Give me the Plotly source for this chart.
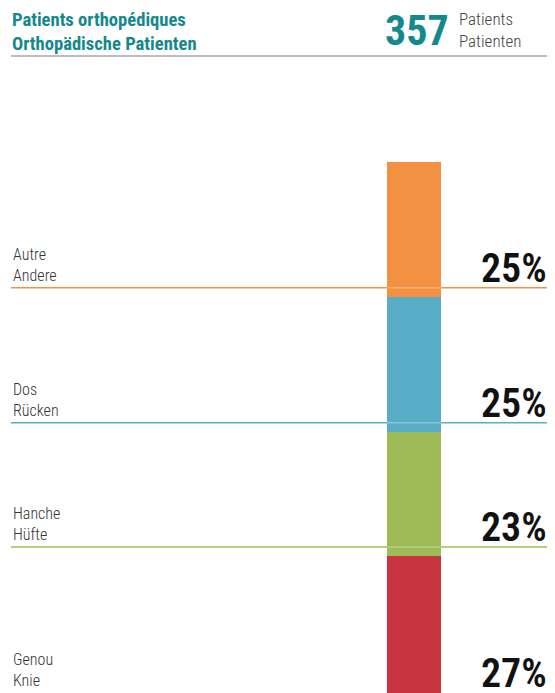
import plotly.graph_objects as go

# ---- data ----
categories_fr = ["Genou", "Hanche", "Dos", "Autre"]
categories_de = ["Knie", "Hüfte", "Rücken", "Andere"]
shares = [27, 23, 25, 25]
colors = ["#C8343F", "#9DBC55", "#58AEC7", "#F19141"]
total_patients = 357
title_fr = "Patients orthopédiques"
title_de = "Orthopädische Patienten"
unit_fr = "Patients"
unit_de = "Patienten"

# page body has an 8px margin: figure is sized to fill the rest of the window
OFF = 8
W, H = 555 - OFF, 693 - OFF
TEAL = "#14898B"
FONT = "Roboto Condensed, Liberation Sans Narrow, DejaVu Sans Condensed, Arial, sans-serif"

def px(xw):   # window x -> paper x
    return (xw - OFF) / W

def py(yw):   # window y -> paper y
    return 1 - (yw - OFF) / H

SCALE = 5.4                   # pixels per percentage point
Y_TOP_PX = 162 - OFF          # top of stack (100%) in figure pixels
y_max = 100 + Y_TOP_PX / SCALE
y_min = y_max - H / SCALE

fig = go.Figure()
for fr, de, v, c in zip(categories_fr, categories_de, shares, colors):
    fig.add_trace(go.Bar(x=[414 - OFF], y=[v], width=[54], marker=dict(color=c, line=dict(width=0)),
                         name=f"{fr} / {de}", showlegend=False, hoverinfo="skip"))

line_offset = 1.72
cum = 0
for fr, de, v, c in zip(categories_fr, categories_de, shares, colors):
    ly = cum + line_offset
    if cum > 0:  # the bottom category's rule falls just below the visible area
        fig.add_shape(type="line", xref="paper", yref="y", x0=px(11), x1=1, y0=ly, y1=ly,
                      line=dict(color=c, width=1.5), layer="above")
        fig.add_shape(type="line", xref="x", yref="y", x0=387 - OFF, x1=441 - OFF, y0=ly, y1=ly,
                      line=dict(color="rgba(255,255,255,0.3)", width=1.5), layer="above")
    fig.add_annotation(x=px(11), xref="paper", y=ly, yref="y", xanchor="left", yanchor="bottom",
                       yshift=1, text=f"{fr}<br>{de}", showarrow=False, align="left",
                       font=dict(family=FONT, size=16, weight=300, color="#333333"))
    fig.add_annotation(x=px(549), xref="paper", y=ly, yref="y", xanchor="right", yanchor="bottom",
                       yshift=-6, text=f"{v}%", showarrow=False, align="right",
                       font=dict(family=FONT, size=40, weight=600, color="#111111"))
    cum += v

# header
fig.add_annotation(x=px(10), xref="paper", y=py(7), yref="paper", xanchor="left", yanchor="top",
                   text=f"<b>{title_fr}<br>{title_de}</b>", showarrow=False, align="left",
                   font=dict(family=FONT, size=18.6, color=TEAL))
fig.add_annotation(x=px(451), xref="paper", y=py(30), yref="paper", xanchor="right", yanchor="middle",
                   text=f"<b>{total_patients}</b>", showarrow=False,
                   font=dict(family=FONT, size=42, color=TEAL))
fig.add_annotation(x=px(457), xref="paper", y=py(7), yref="paper", xanchor="left", yanchor="top",
                   text=f"{unit_fr}<br>{unit_de}", showarrow=False, align="left",
                   font=dict(family=FONT, size=17, weight=300, color="#444444"))
fig.add_shape(type="line", xref="paper", yref="paper", x0=px(11), x1=1, y0=py(56), y1=py(56),
              line=dict(color="#A8A8A8", width=1.5))

fig.update_layout(
    width=W, height=H, margin=dict(l=0, r=0, t=0, b=0),
    paper_bgcolor="white", plot_bgcolor="white", barmode="stack",
    xaxis=dict(range=[0, W], visible=False, fixedrange=True),
    yaxis=dict(range=[y_min, y_max], visible=False, fixedrange=True),
)

fig.write_html("out.html")
